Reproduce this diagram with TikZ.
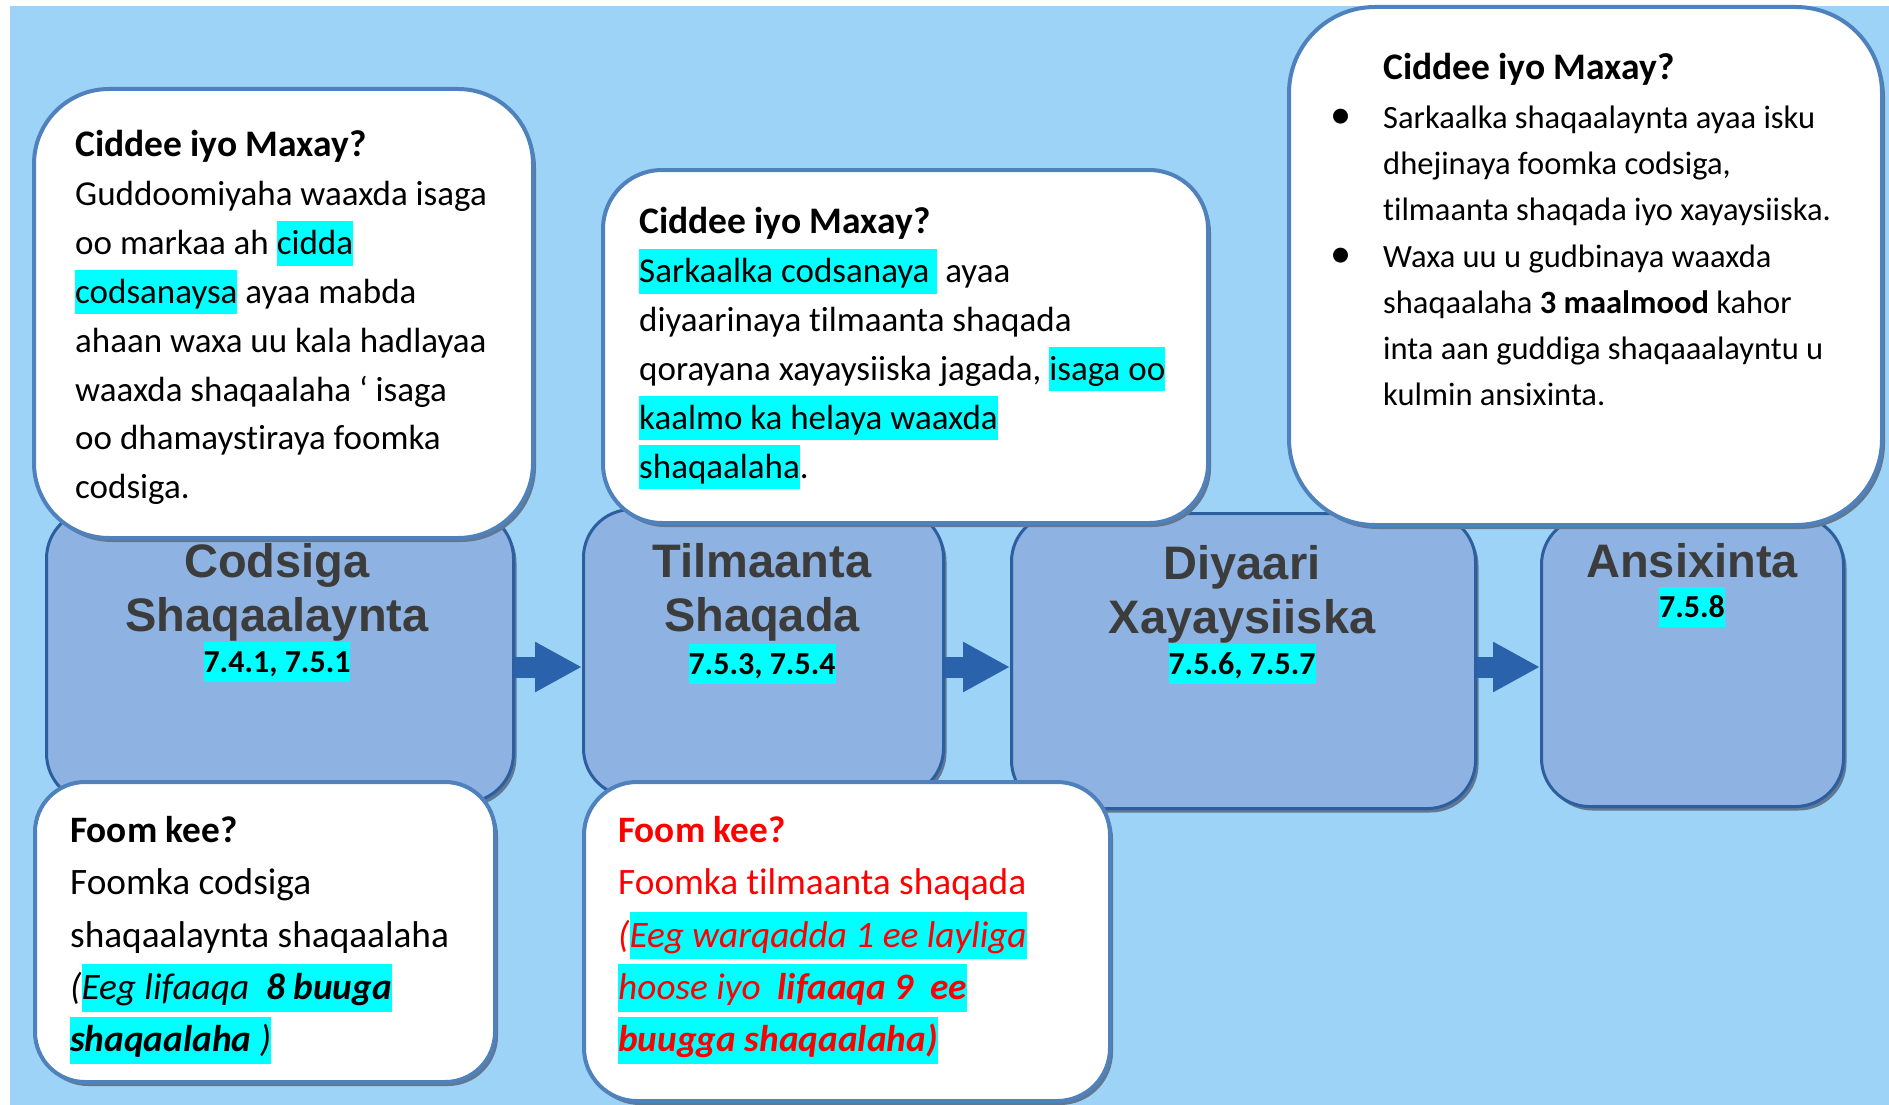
\documentclass[tikz,border=0pt]{standalone}
\usepackage{fontspec}
\usepackage{xcolor}
\usetikzlibrary{shadows,arrows.meta}
\setmainfont{Carlito}[Ligatures=NoCommon]
\newfontfamily\boxfont{Liberation Sans}
\definecolor{skyback}{RGB}{157,211,246}
\definecolor{stagefill}{RGB}{142,179,226}
\definecolor{stageline}{RGB}{44,94,160}
\definecolor{arrowblue}{RGB}{42,98,172}
\definecolor{calloutline}{RGB}{79,129,189}
\definecolor{shadowgray}{RGB}{96,120,146}
\definecolor{titlegray}{RGB}{60,60,60}
\definecolor{hlcyan}{RGB}{0,255,255}
\newcommand{\hlt}[1]{{\setlength{\fboxsep}{0pt}\colorbox{hlcyan}{\vrule height 0.95em depth 0.32em width 0pt #1}}}
\newcommand{\bul}{\llap{\makebox[16pt]{\scalebox{1.3}{\textbullet}}\hspace{34pt}}}
\newcommand{\asktitle}[1]{\textbf{\fontsize{37.5}{48.9}\selectfont #1}}

\begin{document}
\begin{tikzpicture}[x=1pt,y=-1pt]
\tikzstyle{every node}+=[inner sep=0pt]
\tikzstyle{stage}=[draw=stageline, line width=3pt, fill=stagefill, anchor=north west, drop shadow={shadow xshift=3pt, shadow yshift=-4pt, fill=shadowgray, opacity=1}]
\tikzstyle{callout}=[draw=calloutline, line width=4pt, fill=white, anchor=north west, drop shadow={shadow xshift=3pt, shadow yshift=-4pt, fill=shadowgray, opacity=1}]
\tikzstyle{stagetitle}=[anchor=north, align=center, text=titlegray, font=\boxfont\bfseries\fontsize{47}{54}\selectfont]
\tikzstyle{refnum}=[font=\bfseries\fontsize{32}{38}\selectfont]
\tikzstyle{flow}=[arrowblue, line width=21pt, -{Triangle[length=47pt,width=47pt]}]
\useasboundingbox (0,0) rectangle (1889,1105);
\fill[skyback] (10,6) rectangle (1889,1105);
\node[stage, rounded corners=49pt, minimum width=467, minimum height=293] (codsiga) at (45,508) {};
\node[stage, rounded corners=48pt, minimum width=360, minimum height=287] (tilmaanta) at (582,508) {};
\node[stage, rounded corners=48pt, minimum width=464, minimum height=295] (diyaari) at (1010,512) {};
\node[stage, rounded corners=48pt, minimum width=302, minimum height=290] (ansixinta) at (1540,515) {};
\coordinate (flowline) at (0,667);
\draw[flow] (codsiga.east |- flowline) -- (tilmaanta.west |- flowline);
\draw[flow] (tilmaanta.east |- flowline) -- (diyaari.west |- flowline);
\draw[flow] (diyaari.east |- flowline) -- (ansixinta.west |- flowline);
\node[stagetitle] (codsigatitle) at (277,543) {Codsiga\\Shaqaalaynta};
\node[refnum] (codsiganum) at (277,662) {\hlt{7.4.1, 7.5.1}};
\node[stagetitle] (tilmaantatitle) at (762,543) {Tilmaanta\\Shaqada};
\node[refnum] (tilmaantanum) at (762,664) {\hlt{7.5.3, 7.5.4}};
\node[stagetitle] (diyaarititle) at (1242,545) {Diyaari\\Xayaysiiska};
\node[refnum] (diyaarinum) at (1242,664) {\hlt{7.5.6, 7.5.7}};
\node[stagetitle] (ansixintatitle) at (1692,543) {Ansixinta};
\node[refnum] (ansixintanum) at (1692,607) {\hlt{7.5.8}};
\node[callout, rounded corners=75pt, minimum width=499, minimum height=449] (whoone) at (32,87) {};
\node[anchor=north west, align=left, font=\fontsize{35}{48.9}\selectfont] (whoonetext) at (75,130) {\asktitle{Ciddee iyo Maxay?}\\
Guddoomiyaha waaxda isaga\\
oo markaa ah \hlt{cidda}\\
\hlt{codsanaysa} ayaa mabda\\
ahaan waxa uu kala hadlayaa\\
waaxda shaqaalaha ‘ isaga\\
oo dhamaystiraya foomka\\
codsiga.};
\node[callout, rounded corners=59pt, minimum width=605, minimum height=353] (whotwo) at (601,168) {};
\node[anchor=north west, align=left, font=\fontsize{35}{48.9}\selectfont] (whotwotext) at (639,207) {\asktitle{Ciddee iyo Maxay?}\\
\hlt{Sarkaalka codsanaya\ }\ ayaa\\
diyaarinaya tilmaanta shaqada\\
qorayana xayaysiiska jagada, \hlt{isaga oo}\\
\hlt{kaalmo ka helaya waaxda}\\
\hlt{shaqaalaha}.};
\node[callout, rounded corners=86pt, minimum width=593, minimum height=518] (whothree) at (1287,5) {};
\node[anchor=north west, align=left, font=\fontsize{32.5}{46}\selectfont] (whothreetext) at (1383,53) {\asktitle{Ciddee iyo Maxay?}\\[3pt]
\bul Sarkaalka shaqaalaynta ayaa isku\\
dhejinaya foomka codsiga,\\
tilmaanta shaqada iyo xayaysiiska.\\[1pt]
\bul Waxa uu u gudbinaya waaxda\\
shaqaalaha \textbf{3 maalmood} kahor\\
inta aan guddiga shaqaaalayntu u\\
kulmin ansixinta.};
\node[callout, rounded corners=50pt, minimum width=460, minimum height=300] (formone) at (33,780) {};
\node[anchor=north west, align=left, font=\fontsize{37.3}{52.4}\selectfont] (formonetext) at (70,816) {\textbf{Foom kee?}\\
Foomka codsiga\\
shaqaalaynta shaqaalaha\\
\textit{(}\hlt{\textit{Eeg lifaaqa\ \ \textbf{8 buuga}}}\\
\hlt{\textit{\textbf{shaqaalaha} )}}};
\node[callout, rounded corners=53pt, minimum width=526, minimum height=319] (formtwo) at (582,780) {};
\node[anchor=north west, align=left, text=red, font=\fontsize{37.3}{52.4}\selectfont] (formtwotext) at (618,816) {\textbf{Foom kee?}\\
Foomka tilmaanta shaqada\\
\textit{(}\hlt{\textit{Eeg warqadda 1 ee layliga}}\\
\hlt{\textit{hoose iyo\ \ \textbf{lifaaqa 9\ \ ee}}}\\
\hlt{\textit{\textbf{buugga shaqaalaha)}}}};
\end{tikzpicture}
\end{document}
